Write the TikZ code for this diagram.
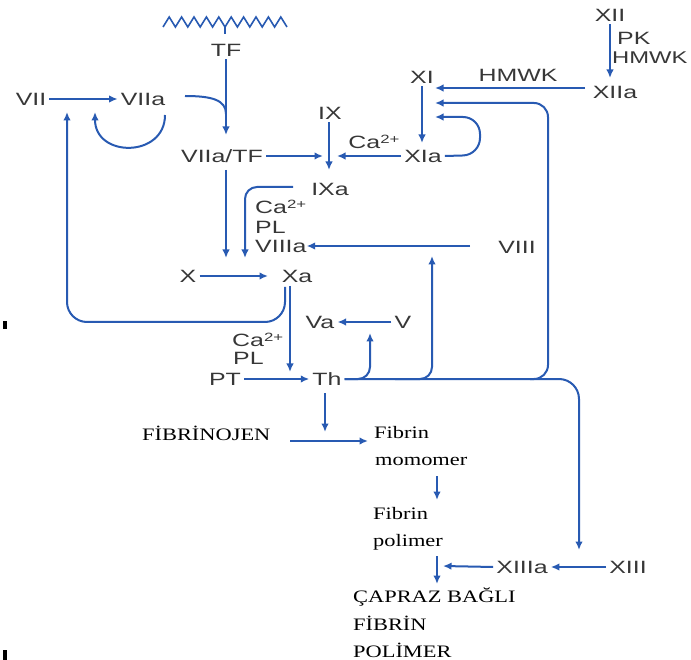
\documentclass[tikz,border=0pt]{standalone}
\usepackage{fontspec}
\usetikzlibrary{arrows.meta}
\newfontfamily\sff[FakeStretch=1.4]{Liberation Sans}
\newfontfamily\serf[FakeStretch=1.28]{Liberation Serif}
\definecolor{lblue}{RGB}{40,90,178}
\definecolor{tgray}{RGB}{55,55,55}
\newcommand\twoplus{\raisebox{5.5pt}{\fontsize{12}{12}\selectfont 2+}}
\begin{document}
\begin{tikzpicture}[x=1pt,y=-1pt,
  lab/.style={font=\sff\fontsize{17.8}{19}\selectfont, text=tgray, inner sep=3pt},
  labw/.style={lab, anchor=west, inner sep=0pt},
  ser/.style={font=\serf\fontsize{17.5}{19}\selectfont, text=black, inner sep=0pt, anchor=west},
  ln/.style={draw=lblue, line width=2pt},
  arr/.style={ln, -{Latex[length=8.5pt,width=7.5pt]}}]
\useasboundingbox (0,0) rectangle (691,660);

% membrane zigzag
\draw[ln, line width=1.6pt, line join=miter] (163,27)
  \foreach \i in {0,...,9} { -- ({169.2+12.4*\i},17) -- ({175.4+12.4*\i},27) };
\draw[ln, line width=1.6pt] (225,27) -- (225,34);

% nodes
\node[lab] (TF) at (226,50) {TF};
\node[lab] (VII) at (31,99) {VII};
\node[lab] (VIIa) at (143,99) {VIIa};
\node[lab] (VIIaTF) at (222,156) {VIIa/TF};
\node[lab] (IX) at (330,113) {IX};
\node[lab] (Ca1) at (374,142) {Ca\twoplus};
\node[lab] (XIa) at (423,156) {XIa};
\node[lab] (XI) at (422,77) {XI};
\node[lab] (HMWK1) at (518,75) {HMWK};
\node[lab] (XII) at (610,15) {XII};
\node[labw] (PK) at (617,38) {PK};
\node[labw, font=\sff\fontsize{17}{19}\selectfont] (HMWK2) at (612,58) {HMWK};
\node[lab] (XIIa) at (615,92) {XIIa};
\node[lab] (IXa) at (330,189) {IXa};
\node[labw] (Ca2) at (255,207) {Ca\twoplus};
\node[labw] (PL1) at (255,227) {PL};
\node[labw] (VIIIa) at (255,246) {VIIIa};
\node[lab] (VIII) at (517,247) {VIII};
\node[lab] (X) at (188,276) {X};
\node[lab] (Xa) at (297,276) {Xa};
\node[lab] (Va) at (320,322) {Va};
\node[lab] (V) at (403,322) {V};
\node[labw] (Ca3) at (232,340) {Ca\twoplus};
\node[labw] (PL2) at (233,358) {PL};
\node[lab] (PT) at (225,379) {PT};
\node[lab] (Th) at (327,379) {Th};
\node[lab] (XIIIa) at (522,567) {XIIIa};
\node[lab] (XIII) at (628,567) {XIII};

\node[ser] (FIBN) at (142,433) {FİBRİNOJEN};
\node[ser] (Fib1) at (374,433) {Fibrin};
\node[ser] (mono) at (375,461) {momomer};
\node[ser] (Fib2) at (373,514) {Fibrin};
\node[ser] (poli) at (373,542) {polimer};
\node[ser] (CAP1) at (353,597) {ÇAPRAZ BAĞLI};
\node[ser] (CAP2) at (353,623) {FİBRİN};
\node[ser] (CAP3) at (353,650) {POLİMER};

% connector endpoints
\coordinate (tfend) at (226,135);
\coordinate (ixtip) at (329,170);
\coordinate (xa1) at (226,258);
\coordinate (xa2) at (245,258);

% extrinsic
\draw[arr] (VII.east) -- (VIIa.west);
\draw[arr] (165,115) .. controls (165,158) and (95,158) .. (95,112);
\draw[arr] (TF.south) -- (tfend);
\draw[ln] (185,96) .. controls (212,96) and (226,100) .. (226,114);
\draw[arr, rounded corners=20pt] (285,287) |- (67,322) -- (67,112);

% IX activation
\draw[arr] (VIIaTF.east) -- (323,156);
\draw[arr] (IX.south -| ixtip) -- (ixtip);
\draw[arr] (XIa.west) -- (337,156);
\draw[arr] (XI.south) -- (XI.south |- 0,143);
\draw[arr] (585,88) -- (435,88);
\draw[arr, rounded corners=17pt] (XIa.east) -- (480,155) -- (480,117) -- (435,117);
\draw[arr] (XII.south) -- (XII.south |- 0,78);

% X activation
\draw[arr] (226,170) -- (xa1);
\draw[arr, rounded corners=12pt] (293,187) -| (xa2);
\draw[arr] (470,246) -- (VIIIa.east);
\draw[arr] (X.east) -- (X.east -| 268,0);
\draw[arr] (290,286) -- (290,372);
\draw[arr] (PT.east) -- (Th.west);
\draw[arr] (V.west) -- (Va.east);

% thrombin feedback
\draw[arr, rounded corners=12pt] (Th.east) -| (370,333);
\draw[arr, rounded corners=12pt] (Th.east -| 395,0) -| (432,256);
\draw[arr, rounded corners=14pt] (Th.east) -| (548,103) -- (435,103);
\draw[arr, rounded corners=20pt] (Th.east -| 530,0) -| (579,550);

% fibrin
\draw[arr] (325,393) -- (325,432);
\draw[arr] (290,441) -- (368,441);
\draw[arr] (437,476) -- (437,500);
\draw[arr] (437,556) -- (437,584);
\draw[arr] (XIII.west) -- (XIIIa.east);
\draw[arr] (XIIIa.west) -- (443,566);

% marks
\fill[black] (3,321) rectangle (7,329);
\fill[black] (3,650) rectangle (7,660);
\end{tikzpicture}
\end{document}
